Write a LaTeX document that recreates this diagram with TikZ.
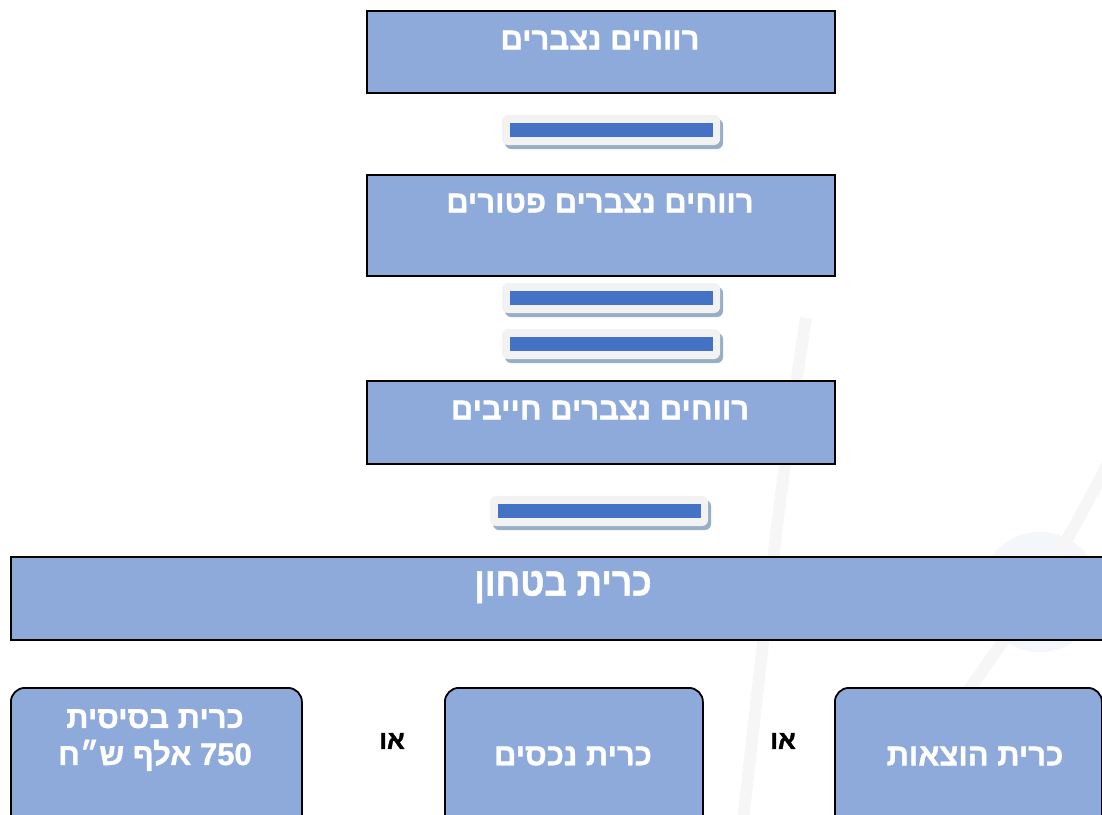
\documentclass[tikz,border=0pt]{standalone}
\usepackage{fontspec}
\newfontfamily\heb[Script=Hebrew, BoldFeatures={FakeBold=1.2}]{Liberation Sans}
\newfontfamily\hebc[Script=Hebrew, BoldFeatures={FakeBold=1.2}, FakeStretch=0.88]{Liberation Sans}
\TeXXeTstate=1
\definecolor{boxfill}{HTML}{8EAADB}
\definecolor{barblue}{HTML}{4472C4}
\definecolor{barback}{HTML}{F2F2F2}
\definecolor{barshade}{HTML}{97AEC6}
\definecolor{wmgray}{HTML}{F6F6F6}
\definecolor{wmblue}{HTML}{F3F6FB}
\tikzset{
  sqbox/.style={draw=black, line width=1.8pt, fill=boxfill, anchor=north west, inner sep=0pt},
  rbox/.style={draw=black, line width=1.8pt, fill=boxfill, anchor=north west, inner sep=0pt, rounded corners=14pt},
  lbl/.style={text=white, font=\heb\bfseries\fontsize{31}{36}\selectfont, inner sep=0pt, align=center},
  orlbl/.style={text=black, font=\heb\bfseries\fontsize{26}{30}\selectfont, inner sep=0pt},
  barshadow/.style={fill=barshade, rounded corners=6pt, minimum width=218pt, minimum height=30pt, inner sep=0pt},
  barouter/.style={fill=barback, rounded corners=6pt, minimum width=218pt, minimum height=30pt, inner sep=0pt},
  barinner/.style={fill=barblue, minimum width=203pt, minimum height=14pt, inner sep=0pt},
}
\newcommand{\minusbar}[3]{%
  \node[barshadow] (#1s) at ($(#2,#3)+(3,4)$) {};
  \node[barouter] (#1) at (#2,#3) {};
  \node[barinner] (#1i) at (#1.center) {};
}
\usetikzlibrary{calc}
\begin{document}
\begin{tikzpicture}[x=1pt,y=-1pt]
\useasboundingbox (0,0) rectangle (1102,814);
% faint watermark
\begin{scope}
\clip (0,0) rectangle (1102,814);
\fill[wmblue] (1040,592) circle (60);
\draw[wmgray, line width=12pt] (806,318) .. controls (782,470) and (762,650) .. (742,830);
\draw[wmgray, line width=12pt] (1112,455) .. controls (1060,560) and (1000,650) .. (935,735);
\end{scope}

% top boxes
\node[sqbox, minimum width=468pt, minimum height=82pt] (b1) at (366,10) {};
\node[lbl] (t1) at (600,40) {\beginR רווחים נצברים\endR};
\minusbar{m1}{611}{130}

\node[sqbox, minimum width=468pt, minimum height=101pt] (b2) at (366,174) {};
\node[lbl] (t2) at (600,203) {\beginR רווחים נצברים פטורים\endR};
\minusbar{m2}{611}{298}
\minusbar{m3}{611}{344}

\node[sqbox, minimum width=468pt, minimum height=83pt] (b3) at (366,380) {};
\node[lbl] (t3) at (600,410) {\beginR רווחים נצברים חייבים\endR};
\minusbar{m4}{599}{511}

% wide box
\node[sqbox, minimum width=1110pt, minimum height=83pt] (b4) at (10,556) {};
\node[lbl, font=\hebc\bfseries\fontsize{40}{44}\selectfont] (t4) at (563,587) {\beginR כרית בטחון\endR};

% bottom rounded boxes
\node[rbox, minimum width=291pt, minimum height=150pt] (c1) at (10,687) {};
\node[lbl] (u1) at (155,740) {\beginR כרית בסיסית\endR\\[1pt]\beginR\beginL 750\endL{} אלף ש״ח\endR};
\node[orlbl] (o1) at (392,741) {\beginR או\endR};
\node[rbox, minimum width=258pt, minimum height=150pt] (c2) at (444,687) {};
\node[lbl] (u2) at (573,756) {\beginR כרית נכסים\endR};
\node[orlbl] (o2) at (783,741) {\beginR או\endR};
\node[rbox, minimum width=267pt, minimum height=150pt] (c3) at (834,687) {};
\node[lbl] (u3) at (975,756) {\beginR כרית הוצאות\endR};
\end{tikzpicture}
\end{document}
